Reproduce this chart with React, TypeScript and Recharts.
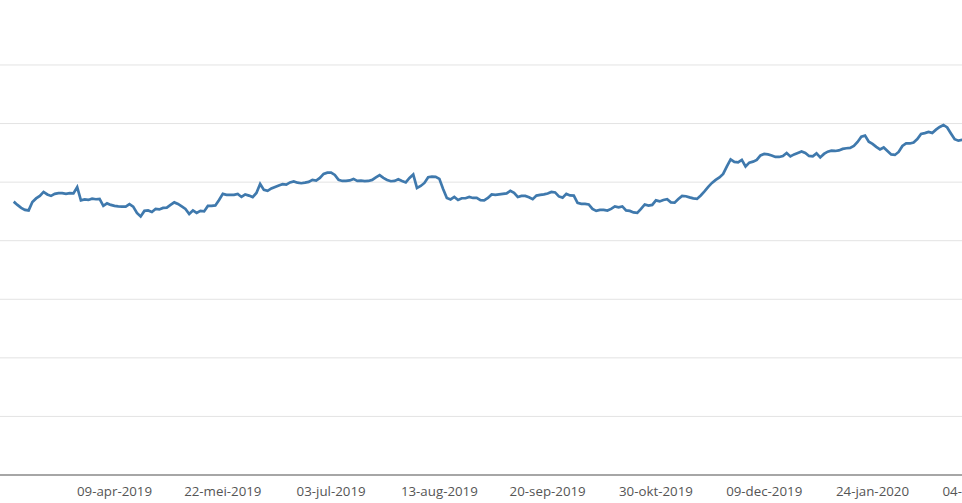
import { CartesianGrid, Line, LineChart, XAxis, YAxis } from 'recharts';

// one value per trading day
const values: number[] = [
  46.67, 46.11, 45.6, 45.26, 45.17, 46.62, 47.22, 47.65, 48.33, 47.9,
  47.65, 47.99, 48.11, 48.11, 47.99, 48.11, 48.07, 49.13, 46.88, 47.05,
  46.96, 47.18, 47.08, 47.13, 45.94, 46.37, 46.11, 45.94, 45.85, 45.82,
  45.82, 46.23, 45.82, 44.74, 44.15, 45.09, 45.17, 44.91, 45.43, 45.34,
  45.6, 45.65, 46.11, 46.54, 46.28, 45.85, 45.43, 44.57, 45.17, 44.74,
  45.09, 45.0, 45.94, 45.94, 46.02, 46.96, 47.99, 47.82, 47.82, 47.82,
  47.99, 47.47, 47.9, 47.7, 47.44, 48.16, 49.69, 48.67, 48.5, 48.92,
  49.18, 49.44, 49.64, 49.57, 49.95, 50.12, 49.9, 49.81, 49.91, 50.03,
  50.38, 50.26, 50.72, 51.4, 51.62, 51.62, 51.23, 50.38, 50.2, 50.2,
  50.29, 50.55, 50.2, 50.26, 50.17, 50.2, 50.38, 50.8, 51.19, 50.72,
  50.38, 50.15, 50.2, 50.49, 50.2, 49.95, 50.72, 51.31, 49.01, 49.35,
  49.86, 50.84, 50.94, 50.89, 50.55, 48.84, 47.3, 47.05, 47.47, 46.96,
  47.25, 47.25, 47.47, 47.3, 47.3, 46.91, 46.88, 47.3, 47.9, 47.82,
  47.9, 47.99, 48.07, 48.5, 48.16, 47.47, 47.65, 47.65, 47.42, 47.1,
  47.7, 47.82, 47.9, 48.07, 48.33, 48.24, 47.56, 47.35, 47.99, 47.73,
  47.7, 46.45, 46.28, 46.28, 46.19, 45.43, 45.09, 45.26, 45.26, 45.14,
  45.43, 45.85, 45.68, 45.85, 45.17, 45.09, 44.83, 44.74, 45.43, 46.19,
  45.99, 46.11, 46.88, 46.71, 46.96, 47.08, 46.54, 46.5, 47.13, 47.65,
  47.59, 47.39, 47.22, 47.13, 47.73, 48.41, 49.18, 49.86, 50.38, 50.8,
  51.4, 52.68, 53.87, 53.45, 53.36, 53.79, 52.68, 53.33, 53.5, 53.79,
  54.56, 54.81, 54.73, 54.56, 54.3, 54.3, 54.47, 54.98, 54.39, 54.73,
  54.98, 55.24, 54.98, 54.47, 54.39, 54.9, 54.22, 54.81, 55.2, 55.36,
  55.32, 55.41, 55.67, 55.78, 55.84, 56.18, 56.86, 57.76, 57.94, 56.91,
  56.52, 56.01, 55.58, 55.92, 55.32, 54.73, 54.64, 55.15, 56.18, 56.6,
  56.6, 56.77, 57.34, 58.23, 58.36, 58.57, 58.4, 58.96, 59.42, 59.76,
  59.33, 58.31, 57.32, 57.08, 57.2, 57.2, 57.37,
];

// x-axis labels sit every 29 trading days
const tickIndex = [27, 56, 85, 114, 143, 172, 201, 230, 259];
const tickLabels = [
  '09-apr-2019',
  '22-mei-2019',
  '03-jul-2019',
  '13-aug-2019',
  '20-sep-2019',
  '30-okt-2019',
  '09-dec-2019',
  '24-jan-2020',
  '04-mrt-2020',
];
const gridTicks = [0, 10, 20, 30, 40, 50, 60, 70];

const data = values.map((v, i) => ({ i, v }));

export default function App() {
  return (
    <div
      style={{
        position: 'absolute',
        left: 0,
        top: 0,
        width: 962,
        height: 503,
        overflow: 'hidden',
        background: '#fff',
      }}
    >
      <LineChart
        width={992}
        height={503}
        data={data}
        margin={{ top: 6.4, right: 0, left: 0, bottom: 0 }}
      >
        <CartesianGrid vertical={false} syncWithTicks stroke="#e3e3e3" strokeWidth={1} />
        <XAxis
          dataKey="i"
          type="number"
          domain={[-3.67, 262]}
          allowDataOverflow
          ticks={tickIndex}
          interval={0}
          tickFormatter={(v: number) => tickLabels[tickIndex.indexOf(v)] ?? ''}
          tickLine={false}
          tickMargin={6}
          axisLine={{ stroke: '#8c8c8c', strokeWidth: 1.5 }}
          tick={{ fontSize: 13.3, fill: '#555', fontFamily: '"Open Sans", sans-serif' }}
          height={28}
        />
        <YAxis hide domain={[0, 80]} ticks={gridTicks} />
        <Line
          type="linear"
          dataKey="v"
          stroke="#3f79ad"
          strokeWidth={2.7}
          dot={false}
          isAnimationActive={false}
        />
      </LineChart>
    </div>
  );
}
